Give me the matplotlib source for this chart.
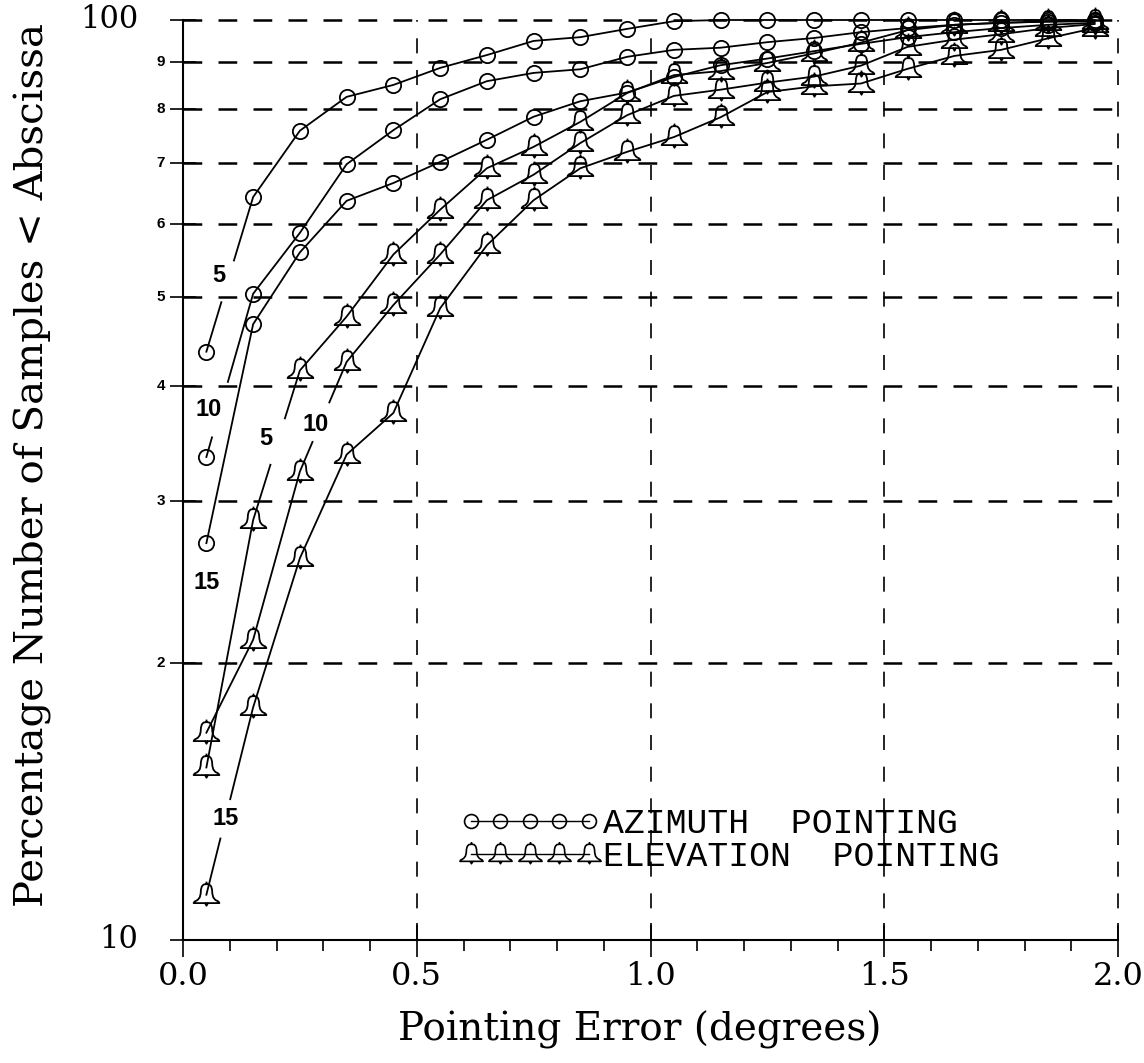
import numpy as np
import matplotlib
matplotlib.use("Agg")
import matplotlib.pyplot as plt
from matplotlib.path import Path
from matplotlib.ticker import FixedLocator, NullLocator, MultipleLocator

# pointing error bins (deg)
x = [0.05, 0.15, 0.25, 0.35, 0.45, 0.55, 0.65, 0.75, 0.85, 0.95,
     1.05, 1.15, 1.25, 1.35, 1.45, 1.55, 1.65, 1.75, 1.85, 1.95]

# azimuth pointing, % samples < abscissa
az_5 = [43.6, 64.2, 75.8, 82.5, 85.0, 88.7, 91.6, 94.9, 95.8, 97.8,
        99.7, 100, 100, 100, 100, 100, 100, 100, 100, 100]
az_10 = [33.5, 50.4, 58.7, 69.7, 75.9, 82.0, 85.8, 87.6, 88.4, 91.2,
         92.8, 93.3, 94.6, 95.6, 97.0, 98.0, 98.8, 99.3, 99.6, 99.8]
az_15 = [27.0, 46.7, 55.9, 63.6, 66.5, 70.1, 74.1, 78.5, 81.6, 83.4,
         86.7, 89.3, 90.8, 92.5, 94.2, 95.8, 97.0, 98.0, 98.8, 99.3]

# elevation pointing
el_5 = [15.4, 28.6, 41.6, 47.6, 55.6, 62.2, 69.0, 72.8, 77.5, 83.3,
        87.1, 88.0, 89.8, 92.0, 94.5, 97.5, 98.8, 99.3, 99.6, 99.7]
el_10 = [16.8, 21.2, 32.3, 42.5, 49.0, 55.6, 63.7, 67.9, 73.5, 78.8,
         82.7, 84.0, 85.5, 86.8, 89.2, 93.5, 95.2, 96.5, 98.0, 99.0]
el_15 = [11.2, 17.9, 26.0, 33.7, 37.4, 48.6, 56.9, 63.7, 69.0, 71.9,
         74.6, 78.4, 83.5, 84.7, 85.3, 88.5, 91.4, 92.8, 95.5, 98.0]

y_major = [10, 20, 30, 40, 50, 60, 70, 80, 90, 100]
y_labels = ["10", "2", "3", "4", "5", "6", "7", "8", "9", "100"]
x_major = [0.0, 0.5, 1.0, 1.5, 2.0]
x_labels = ["0.0", "0.5", "1.0", "1.5", "2.0"]

SERIF = "DejaVu Serif"

# bell shaped marker
bell_pts = [(0.0, 0.78), (0.2, 0.75), (0.32, 0.62), (0.38, 0.4), (0.4, 0.12),
            (0.46, -0.12), (0.6, -0.3), (0.82, -0.42), (0.88, -0.52)]
outline = bell_pts + [(-px, py) for px, py in reversed(bell_pts)]
verts = [(0, 0.95), (0, 0.78)]
codes = [Path.MOVETO, Path.LINETO]
verts += outline + [outline[0]]
codes += [Path.MOVETO] + [Path.LINETO] * (len(outline) - 1) + [Path.CLOSEPOLY]
verts += [(-0.1, -0.52), (0, -0.7), (0.1, -0.52)]
codes += [Path.MOVETO, Path.LINETO, Path.LINETO]
bell = Path(verts, codes)

fig = plt.figure(figsize=(11.44, 10.63), dpi=100)
ax = fig.add_axes([183 / 1144, 1 - 940 / 1063, 935 / 1144, 920 / 1063])
ax.set_yscale("log")
ax.set_xlim(0, 2)
ax.set_ylim(10, 100)

LW = 1.3


def draw(vals, marker, ms, label, gap=None, lab_off=(0, 0)):
    xs = np.array(x)
    ys = np.array(vals, dtype=float)
    ax.plot(xs, ys, ls="none", marker=marker, ms=ms, mfc="none", mec="k",
            mew=1.3, clip_on=False, zorder=4)
    if gap is None:
        ax.plot(xs, ys, color="k", lw=LW, clip_on=False, zorder=3)
        ax.annotate(label, (xs[0], ys[0]), xytext=lab_off, textcoords="offset points",
                    ha="center", va="center", fontsize=17, fontweight="bold",
                    family="Liberation Sans")
        return
    i, t1, t2 = gap
    ly = np.log10(ys)

    def pt(t):
        return xs[i] + t * (xs[i + 1] - xs[i]), 10 ** (ly[i] + t * (ly[i + 1] - ly[i]))

    a, b = pt(t1), pt(t2)
    ax.plot(list(xs[:i + 1]) + [a[0]], list(ys[:i + 1]) + [a[1]], color="k", lw=LW,
            clip_on=False, zorder=3)
    ax.plot([b[0]] + list(xs[i + 1:]), [b[1]] + list(ys[i + 1:]), color="k", lw=LW,
            clip_on=False, zorder=3)
    ax.annotate(label, pt((t1 + t2) / 2), xytext=lab_off, textcoords="offset points",
                ha="center", va="center", fontsize=17, fontweight="bold",
                family="Liberation Sans")


draw(az_5, "o", 11, "5", gap=(0, 0.32, 0.59), lab_off=(-6.5, 4))
draw(az_10, "o", 11, "10", gap=(0, 0.12, 0.46), lab_off=(-8, 0))
draw(az_15, "o", 11, "15", lab_off=(0, -28))
draw(el_5, bell, 20, "5", gap=(1, 0.37, 0.68), lab_off=(-8.5, 2))
draw(el_10, bell, 20, "10", gap=(2, 0.27, 0.63), lab_off=(-3.5, -2))
draw(el_15, bell, 20, "15", gap=(0, 0.30, 0.51), lab_off=(0, 0))

# dashed grid
for v in y_major[1:]:
    ax.axhline(v, color="k", lw=1.8, ls=(0, (7.5, 6.5)), clip_on=False, zorder=1)
for v in x_major[1:]:
    ax.axvline(v, color="k", lw=1.2, ls=(0, (9, 10)), clip_on=False, zorder=1)

for s in ["top", "right"]:
    ax.spines[s].set_visible(False)
for s in ["left", "bottom"]:
    ax.spines[s].set_linewidth(1.5)

ax.xaxis.set_major_locator(FixedLocator(x_major))
ax.xaxis.set_minor_locator(MultipleLocator(0.1))
ax.set_xticklabels(x_labels, family=SERIF, fontsize=23)
ax.tick_params(axis="x", which="major", direction="inout", length=24, width=1.2, pad=3)
ax.tick_params(axis="x", which="minor", direction="out", length=8, width=1.2)

ax.yaxis.set_major_locator(FixedLocator(y_major))
ax.yaxis.set_minor_locator(NullLocator())
ax.set_yticklabels([""] * len(y_major))
ax.tick_params(axis="y", which="major", direction="inout", length=19, width=1.2)

for v, lab in zip(y_major, y_labels):
    if lab in ("10", "100"):
        ax.annotate(lab, (0, v), xycoords=("axes fraction", "data"), xytext=(-32, 0),
                    textcoords="offset points", ha="right", va="center",
                    family=SERIF, fontsize=22)
    else:
        ax.annotate(lab, (0, v), xycoords=("axes fraction", "data"), xytext=(-13, 0),
                    textcoords="offset points", ha="right", va="center",
                    family="Liberation Sans", fontweight="bold", fontsize=11)

fig.text(640 / 1144, 1 - 1030 / 1063, "Pointing Error (degrees)", family=SERIF,
         fontsize=28, ha="center", va="center")
fig.text(33 / 1144, 1 - 465 / 1063, "Percentage Number of Samples < Abscissa",
         family=SERIF, fontsize=29, rotation=90, ha="center", va="center")

ax.plot([], [], color="k", lw=1.0, marker="o", ms=10, mfc="none", mew=1.2,
        label="AZIMUTH  POINTING")
ax.plot([], [], color="k", lw=1.0, marker=bell, ms=18, mfc="none", mew=1.2,
        label="ELEVATION  POINTING")
ax.legend(loc="lower left", bbox_to_anchor=(0.278, 0.054), frameon=False, numpoints=5,
          handlelength=4.0, handletextpad=0.1, labelspacing=0.0, borderpad=0,
          prop={"family": "Liberation Mono", "size": 25})

fig.savefig("out.png", dpi=100)
